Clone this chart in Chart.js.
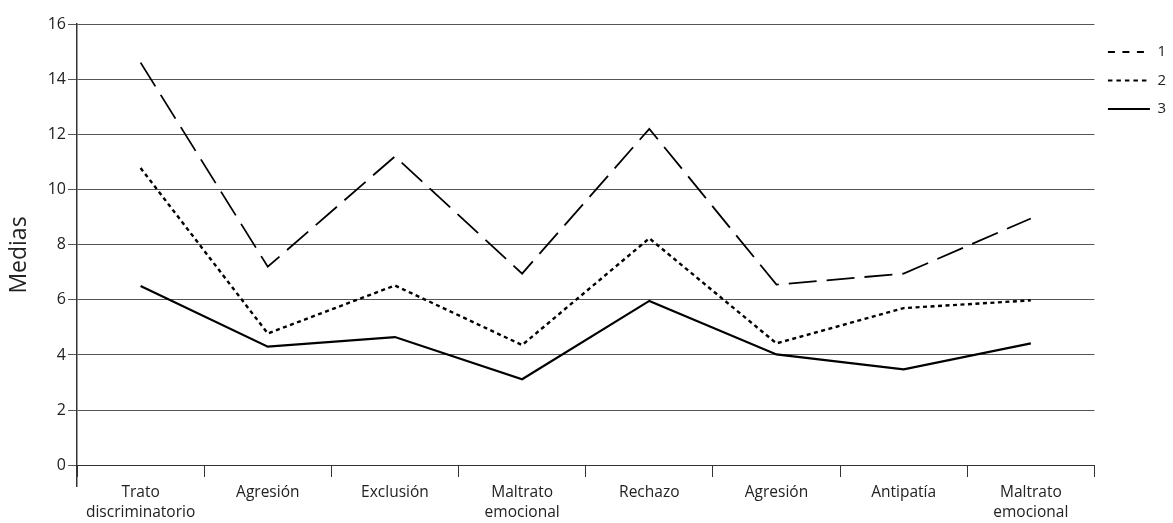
<!DOCTYPE html>
<html><head><meta charset="utf-8">
<script src="https://cdn.jsdelivr.net/npm/chart.js@4.4.0/dist/chart.umd.min.js"></script>
<style>html,body{margin:0;padding:0;background:#fff}#wrap{width:1173px;height:523px}</style>
</head><body><div id="wrap"><canvas id="c" width="1173" height="523"></canvas></div>
<script>
const categories = [['Trato','discriminatorio'],'Agresión','Exclusión',['Maltrato','emocional'],'Rechazo','Agresión','Antipatía',['Maltrato','emocional']];
const seriesNames = ['1','2','3'];
const serie1 = [14.6, 7.2, 11.2, 6.95, 12.2, 6.55, 6.95, 8.95];
const serie2 = [10.78, 4.78, 6.52, 4.36, 8.23, 4.42, 5.7, 5.98];
const serie3 = [6.5, 4.3, 4.65, 3.12, 5.96, 4.02, 3.48, 4.42];
const yTicks = [0, 2, 4, 6, 8, 10, 12, 14, 16];
const yTitle = 'Medias';

const chartDash = [[28, 10], [4, 3.5], []];
const legendDash = [[7, 7.5], [4.5, 4], []];
const widths = [1.8, 2.4, 2.2];

Chart.defaults.font.family = "'Open Sans', sans-serif";
Chart.defaults.color = '#222';

new Chart(document.getElementById('c'), {
  type: 'line',
  data: {
    labels: categories,
    datasets: [serie1, serie2, serie3].map((d, i) => ({
      label: seriesNames[i],
      data: d,
      borderColor: '#000',
      backgroundColor: '#000',
      borderWidth: widths[i],
      borderDash: chartDash[i],
      pointRadius: 0,
      tension: 0,
      fill: false
    }))
  },
  options: {
    responsive: false,
    devicePixelRatio: 1,
    animation: false,
    layout: { padding: { left: 2, right: -3, top: 24, bottom: 37 } },
    plugins: {
      tooltip: { enabled: false },
      legend: {
        position: 'right',
        align: 'start',
        fullSize: false,
        title: { display: true, text: ' ', font: { size: 5, lineHeight: 1 }, padding: 1 },
        labels: {
          usePointStyle: true,
          pointStyle: 'line',
          pointStyleWidth: 42,
          padding: 13.5,
          color: '#222',
          font: { size: 15 },
          generateLabels: (chart) => {
            const items = Chart.defaults.plugins.legend.labels.generateLabels(chart);
            items.forEach((it, i) => { it.lineDash = legendDash[i]; it.lineWidth = 2; it.pointStyle = 'line'; });
            return items;
          }
        }
      }
    },
    scales: {
      x: {
        type: 'category',
        position: { y: 0 },
        offset: true,
        grid: { offset: true, drawOnChartArea: false, drawTicks: true, tickLength: 11, color: '#333', tickWidth: 1 },
        border: { display: true, color: '#333', width: 1 },
        ticks: { maxRotation: 0, autoSkip: false, padding: 7, font: { size: 15.5, lineHeight: 1.25 }, color: '#222' }
      },
      y: {
        min: -0.75,
        max: 16,
        afterBuildTicks: (s) => { s.ticks = yTicks.map(v => ({ value: v })); },
        afterFit: (s) => { s.width = 75; },
        grid: { color: '#555', lineWidth: 1, tickLength: 9, drawTicks: true },
        border: { display: true, color: '#333', width: 1.5 },
        ticks: { padding: 2, font: { size: 16 }, color: '#222' },
        title: { display: true, text: yTitle, font: { size: 23 }, color: '#222', padding: { top: 4, bottom: 4 } }
      }
    }
  }
});
</script></body></html>
